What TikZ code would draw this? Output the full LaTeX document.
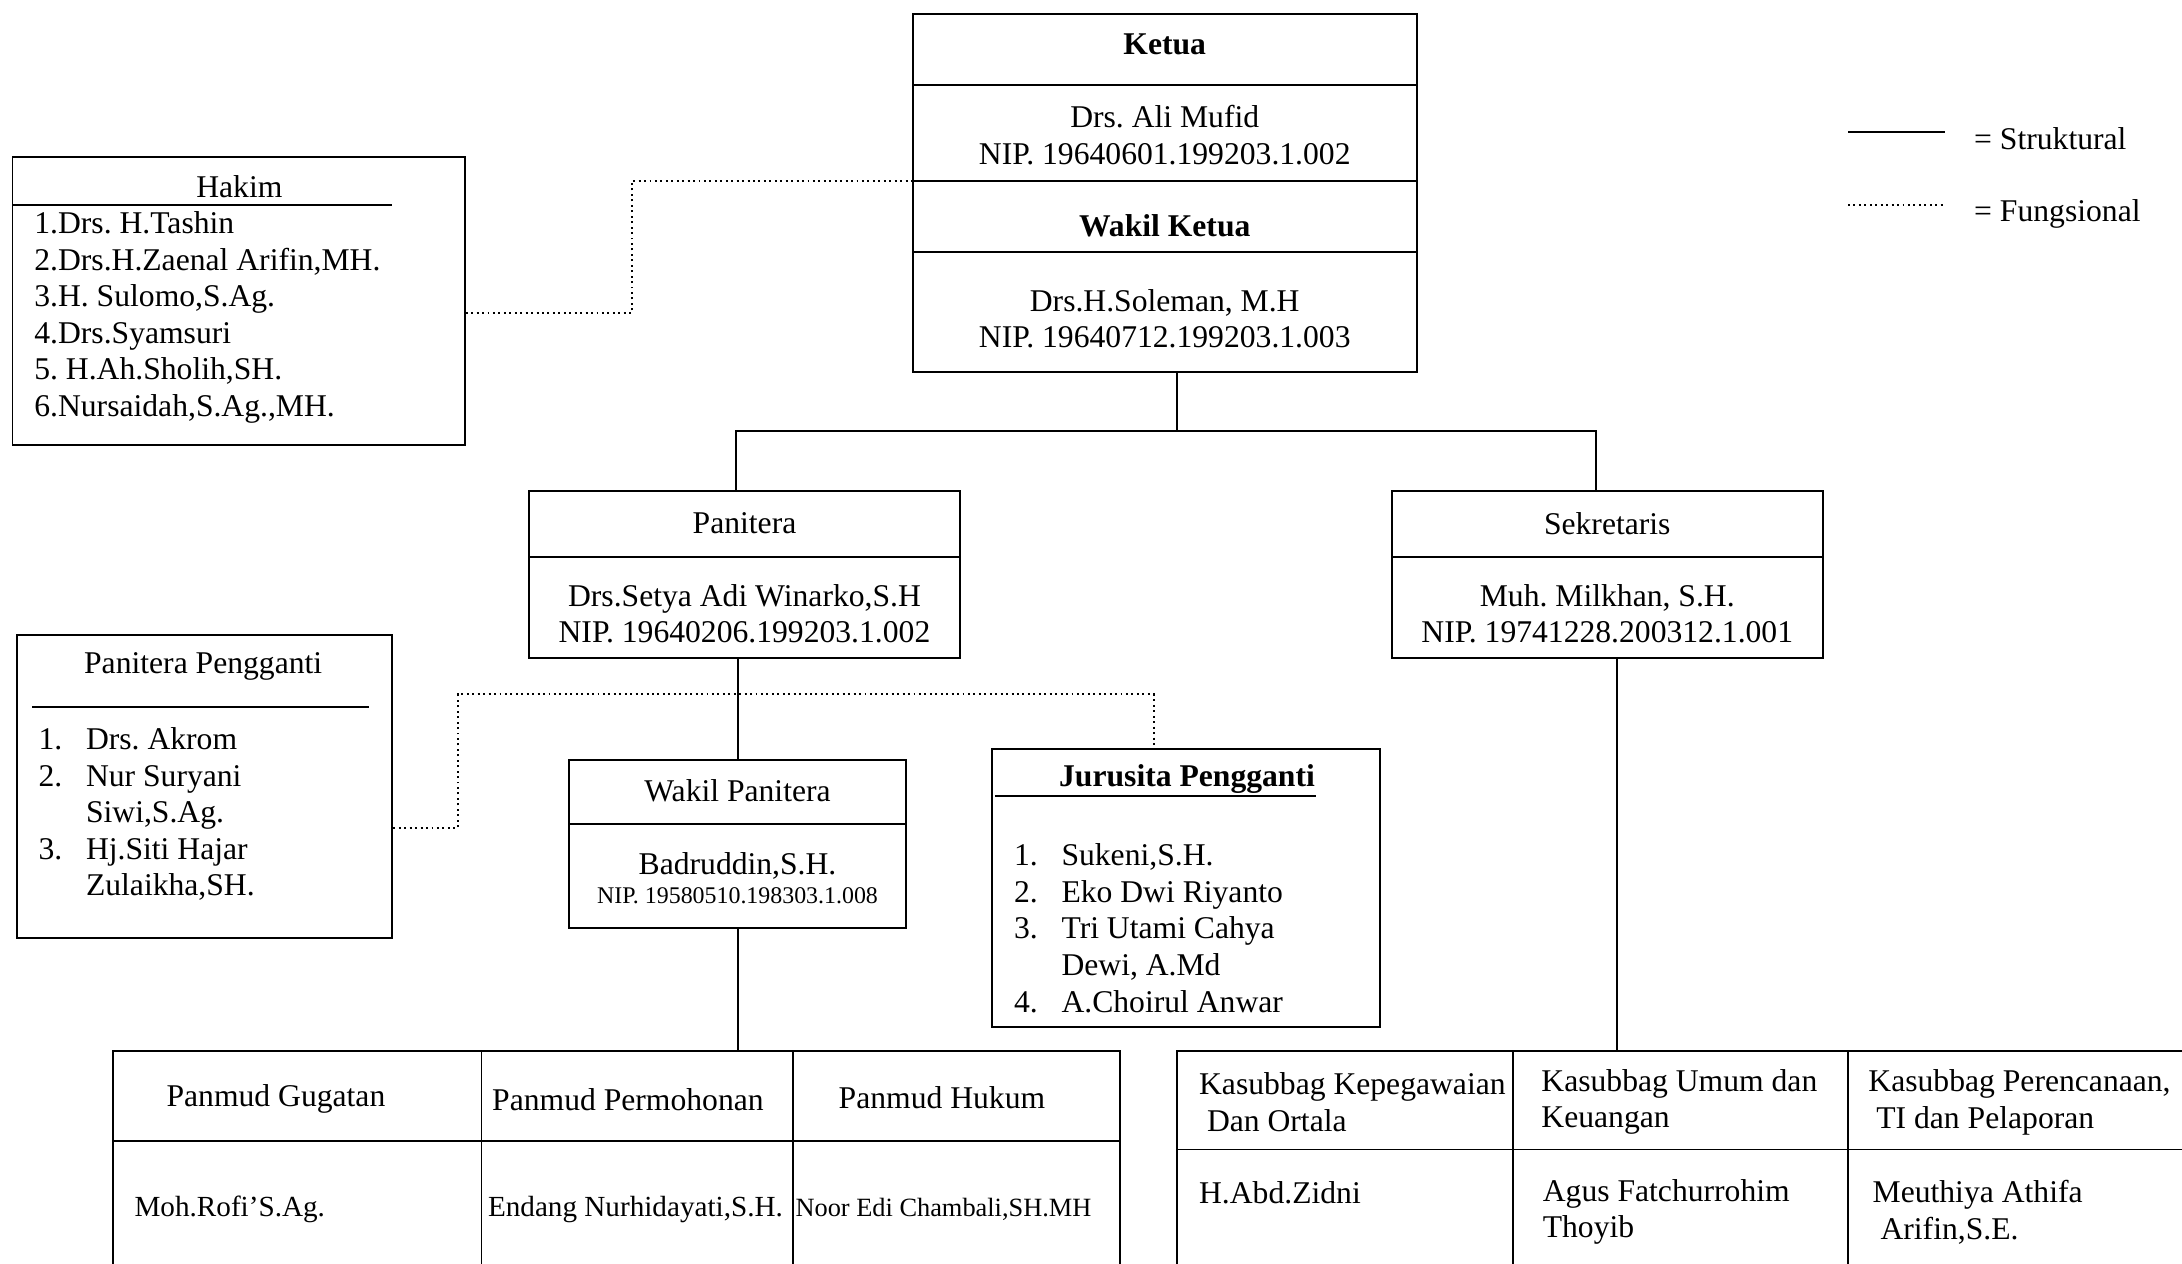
\documentclass[tikz,border=0pt]{standalone}
\usepackage{fontspec}
\setmainfont{Liberation Serif}
\usetikzlibrary{fit}
\frenchspacing

\tikzset{
  box/.style={draw, inner sep=0pt},
  txt/.style={inner sep=0pt, align=center},
  lst/.style={inner sep=0pt, align=left, anchor=west},
  fungsional/.style={densely dotted},
}
\newcommand{\nr}[1]{\makebox[0.475cm][l]{#1}}

\begin{document}
\begin{tikzpicture}[x=0.013916cm, y=-0.013916cm, line width=0.55pt,
                    line cap=butt, font=\fontsize{9}{10.4}\selectfont]
  \useasboundingbox (0,0) rectangle (1568,908);
  \clip (0,0) rectangle (1568,908);

  % Boxes (pixel grid of the chart)
  \node[box, fit={(656,10) (1018,267)}]   (ketua) {};
  \node[box, fit={(9,113) (334,320)}]     (hakim) {};
  \node[box, fit={(380,353) (690,473)}]   (panitera) {};
  \node[box, fit={(1000,353) (1310,473)}] (sekretaris) {};
  \node[box, fit={(12,456) (282,674)}]    (pengganti) {};
  \node[box, fit={(409,546) (651,667)}]   (wakilpan) {};
  \node[box, fit={(713,538) (992,738)}]   (jurusita) {};
  \node[box, fit={(81,755) (805,940)}]    (panmud) {};
  \node[box, fit={(846,755) (1600,940)}]  (kasubbag) {};

  % Dividers
  \foreach \y in {61, 130, 181} \draw (656,\y) -- (1018,\y);
  \draw (380,400) -- (690,400);
  \draw (1000,400) -- (1310,400);
  \draw (409,592) -- (651,592);
  \draw (81,820) -- (805,820);
  \foreach \x in {346, 570} \draw (\x,755) -- (\x,940);
  \draw (846,826) -- (1600,826);
  \foreach \x in {1087, 1328} \draw (\x,755) -- (\x,940);

  % Ketua / Wakil Ketua
  \node[txt] (ketua-t) at (837,32)  {\textbf{Ketua}};
  \node[txt] (ketua-n) at (837,97)  {Drs. Ali Mufid\\NIP. 19640601.199203.1.002};
  \node[txt] (wakil-t) at (837,162) {\textbf{Wakil Ketua}};
  \node[txt] (wakil-n) at (837,229) {Drs.H.Soleman, M.H\\NIP. 19640712.199203.1.003};

  % Hakim
  \node[txt] (hakim-t) at (172,134) {Hakim};
  \draw (9,147) -- (282,147);
  \node[lst] (hakim-l) at (24,228) {1.Drs. H.Tashin\\2.Drs.H.Zaenal Arifin,MH.\\
    3.H. Sulomo,S.Ag.\\4.Drs.Syamsuri\\5. H.Ah.Sholih,SH.\\6.Nursaidah,S.Ag.,MH.};

  % Panitera / Sekretaris
  \node[txt] (panitera-t) at (535,376) {Panitera};
  \node[txt] (panitera-n) at (535,441) {Drs.Setya Adi Winarko,S.H\\NIP. 19640206.199203.1.002};
  \node[txt] (sekretaris-t) at (1155,376) {Sekretaris};
  \node[txt] (sekretaris-n) at (1155,441) {Muh. Milkhan, S.H.\\NIP. 19741228.200312.1.001};

  % Panitera Pengganti
  \node[txt] (pengganti-t) at (146,479) {Panitera Pengganti};
  \draw (23,508) -- (265,508);
  \node[lst] (pengganti-l) at (27,585) {\nr{1.}Drs. Akrom\\\nr{2.}Nur Suryani\\
    \nr{}Siwi,S.Ag.\\\nr{3.}Hj.Siti Hajar\\\nr{}Zulaikha,SH.};

  % Wakil Panitera
  \node[txt] (wakilpan-t) at (530,568) {Wakil Panitera};
  \node[txt] (wakilpan-n) at (530,622) {Badruddin,S.H.};
  \node[txt, font=\fontsize{6.8}{8}\selectfont] (wakilpan-nip) at (530,644)
    {NIP. 19580510.198303.1.008};

  % Jurusita Pengganti
  \node[txt] (jurusita-t) at (853,560) {\textbf{Jurusita Pengganti}};
  \draw (715,572) -- (946,572);
  \node[lst] (jurusita-l) at (728,667) {\nr{1.}Sukeni,S.H.\\\nr{2.}Eko Dwi Riyanto\\
    \nr{3.}Tri Utami Cahya\\\nr{}Dewi, A.Md\\\nr{4.}A.Choirul Anwar};

  % Panmud table
  \node[lst] (gugatan-t)    at (119,790) {Panmud Gugatan};
  \node[lst] (permohonan-t) at (353,790) {Panmud Permohonan};
  \node[lst] (hukum-t)      at (602,789) {Panmud Hukum};
  \node[lst, font=\fontsize{8.3}{10}\selectfont] (gugatan-n)    at (96,869)  {Moh.Rofi’S.Ag.};
  \node[lst, font=\fontsize{8.3}{10}\selectfont] (permohonan-n) at (350,869) {Endang Nurhidayati,S.H.};
  \node[lst, font=\fontsize{7.5}{9}\selectfont]  (hukum-n)      at (571,869) {Noor Edi Chambali,SH.MH};

  % Kasubbag table
  \node[lst] (pegawai-t) at (861,792)  {Kasubbag Kepegawaian\\\ Dan Ortala};
  \node[lst] (umum-t)    at (1107,792) {Kasubbag Umum dan\\Keuangan};
  \node[lst] (rencana-t) at (1342,792) {Kasubbag Perencanaan,\\\ TI dan Pelaporan};
  \node[lst] (pegawai-n) at (861,857)  {H.Abd.Zidni};
  \node[lst] (umum-n)    at (1108,871) {Agus Fatchurrohim\\Thoyib};
  \node[lst] (rencana-n) at (1345,871) {Meuthiya Athifa\\\ Arifin,S.E.};

  % Legend
  \draw (1328,95) -- (1398,95);
  \node[lst] (leg-s) at (1418,100) {= Struktural};
  \draw[fungsional] (1328,147) -- (1396,147);
  \node[lst] (leg-f) at (1418,154) {= Fungsional};

  % Structural lines
  \coordinate (k-drop) at (846,310);
  \coordinate (bus-l)  at (529,310);
  \coordinate (bus-r)  at (1147,310);
  \coordinate (s-drop) at (1162,600);
  \draw (ketua.south -| k-drop) -- (k-drop);
  \draw (panitera.north -| bus-l) -- (bus-l) -- (bus-r) -- (sekretaris.north -| bus-r);
  \draw (panitera.south -| wakilpan.north) -- (wakilpan.north);
  \draw (wakilpan.south) -- (panmud.north -| wakilpan.south);
  \draw (sekretaris.south -| s-drop) -- (kasubbag.north -| s-drop);

  % Functional lines
  \coordinate (hk-turn) at (454,225);
  \coordinate (kdiv)    at (656,130);
  \coordinate (pp-low)  at (329,595);
  \coordinate (pp-turn) at (329,499);
  \coordinate (js-turn) at (829,499);
  \draw[fungsional] (hakim.east |- hk-turn) -- (hk-turn) |- (ketua.west |- kdiv);
  \draw[fungsional] (pengganti.east |- pp-low) -- (pp-low) -- (pp-turn) -- (js-turn)
    -- (jurusita.north -| js-turn);
\end{tikzpicture}
\end{document}
